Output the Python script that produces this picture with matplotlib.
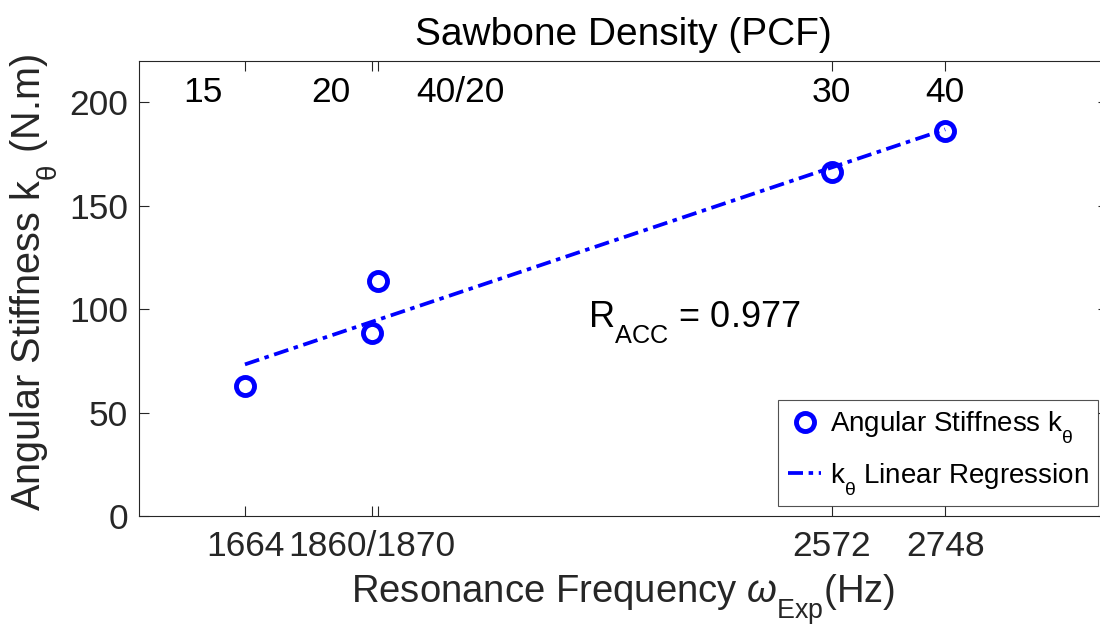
import matplotlib
matplotlib.use('Agg')
import matplotlib.pyplot as plt
import matplotlib.transforms as mtransforms
import numpy as np

plt.rcParams['font.family'] = ['Liberation Sans', 'DejaVu Sans']
plt.rcParams['mathtext.fontset'] = 'custom'
plt.rcParams['mathtext.rm'] = 'Liberation Sans'
plt.rcParams['mathtext.it'] = 'Liberation Sans:italic'

# subscritos mais baixos, estilo MATLAB
try:
    import matplotlib._mathtext as _mt
    _mt.FontConstantsBase.sub1 = 0.8
except Exception:
    pass

# dados
freq = [1664, 1860, 1870, 2572, 2748]
stiffness = [62.9, 88.5, 113.6, 166.3, 186.2]
freq_labels = ['1664', '1860/1870', '', '2572', '2748']
density_labels = ['15', '20', '40/20', '30', '40']
r_acc = 0.977

# deslocamento (pts) dos rotulos de densidade em relacao ao tick
density_offsets = [-30, -29, 59, 0, 0]

cinza = '#262626'
fig = plt.figure(figsize=(11, 6.28), dpi=100)
ax = fig.add_axes([0.12636, 0.17834, 0.88091, 0.72452])

ax.plot(freq, stiffness, 'o', color='blue', markerfacecolor='none',
        markersize=13, markeredgewidth=3.5, label=r'Angular Stiffness $\mathregular{k_{θ}}$')

coef = np.polyfit(freq, stiffness, 1)
x_reg = np.array([min(freq), max(freq)])
ax.plot(x_reg, np.polyval(coef, x_reg), color='blue', lw=2.7,
        linestyle=(0, (4, 1.5, 1.2, 1.5)), label=r'$\mathregular{k_{θ}}$ Linear Regression')

ax.set_xlim(1500, 3000)
ax.set_ylim(0, 220)
ax.set_xticks(freq)
ax.set_xticklabels(freq_labels)
ax.set_yticks([0, 50, 100, 150, 200])
ax.tick_params(direction='in', length=7.2, width=0.8, top=True, right=True,
               labelsize=25.5, colors=cinza, pad=10)
ax.tick_params(axis='y', pad=8)
for s in ax.spines.values():
    s.set_color(cinza)
    s.set_linewidth(0.8)

for x, lab, off in zip(freq, density_labels, density_offsets):
    tr = ax.get_xaxis_transform() + mtransforms.ScaledTranslation(off / 72, 0, fig.dpi_scale_trans)
    ax.text(x, 0.93, lab, transform=tr, ha='center', va='center', fontsize=25.5, color='black')

ax.set_title('Sawbone Density (PCF)', fontsize=28, pad=11.5)
ax.set_xlabel(r'Resonance Frequency $\omega_{\mathrm{Exp}}$(Hz)', fontsize=27.5, color=cinza)
ax.set_ylabel(r'Angular Stiffness $\mathregular{k_{θ}}$ (N.m)', fontsize=28.5, color=cinza)
ax.xaxis.set_label_coords(0.5, -0.125)
ax.yaxis.set_label_coords(-0.082, 0.514)

ax.text(2195, 91.4, r'$\mathregular{R_{ACC}}$ = ' + f'{r_acc}', fontsize=26, color='black')

leg = ax.legend(loc='lower right', fontsize=20, frameon=True, fancybox=False,
                handlelength=1.2, handletextpad=0.3, borderpad=0.35,
                labelspacing=0.55, borderaxespad=0.35)
leg.get_frame().set_edgecolor(cinza)
leg.get_frame().set_linewidth(0.8)

fig.savefig('out.png', dpi=100)
